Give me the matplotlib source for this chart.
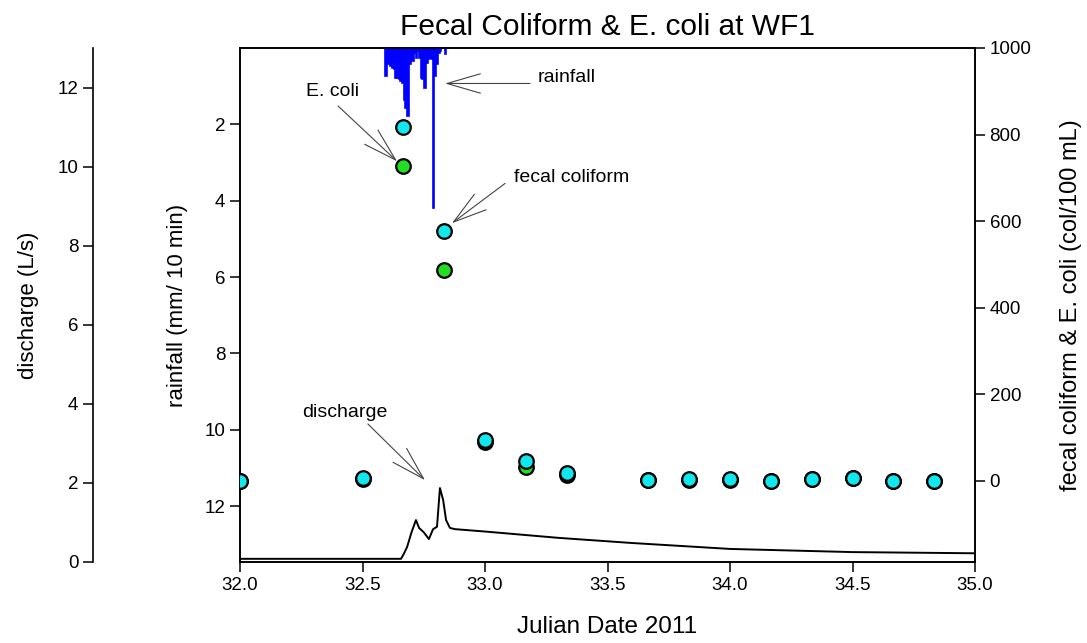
import numpy as np
from matplotlib import pyplot as plt

plt.rcParams['font.family'] = ['Liberation Sans', 'DejaVu Sans']

# rainfall, 10 minute totals (mm), starting at rain_start
rain_start = 32.592
rain_step = 1 / 144
rain_mm = [0.73, 0.34, 0.43, 0.47, 0.52, 0.56, 0.78, 0.78, 0.82, 0.87, 0.91, 1.35,
           1.56, 1.78, 0.43, 0.25, 0.34, 0.12, 0.25, 0.08, 0.25, 0.78, 0.82, 1.04,
           0.39, 0.30, 0.25, 0.30, 4.18, 0.73, 0.43, 0.12, 0.08, 0.0, 0.0, 0.17]
rain_t = [rain_start + k * rain_step for k in range(len(rain_mm))]

# discharge (L/s)
q_t = [32.0, 32.3, 32.657, 32.668, 32.682, 32.70, 32.718, 32.731, 32.75, 32.771,
       32.788, 32.804, 32.816, 32.829, 32.841, 32.857, 32.878, 33.0, 33.3, 33.6,
       34.0, 34.5, 35.0]
q = [0.08, 0.08, 0.08, 0.2, 0.38, 0.75, 1.06, 0.86, 0.75, 0.58,
     0.83, 0.89, 1.87, 1.57, 1.06, 0.86, 0.83, 0.77, 0.61, 0.48,
     0.33, 0.25, 0.22]

# bacteria samples (col/100 mL)
sample_t = [32.0, 32.5, 32.667, 32.833, 33.0, 33.167, 33.333, 33.667, 33.833,
            34.0, 34.167, 34.333, 34.5, 34.667, 34.833]
fecal = [0, 5, 817, 576, 95, 45, 18, 2, 3, 3, 0, 4, 6, 0, 0]
ecoli = [0, 3, 727, 486, 90, 32, 12, 1, 2, 2, 0, 3, 5, 0, 0]

fig = plt.figure(figsize=(10.87, 6.43), dpi=100)
ax = fig.add_axes([0.2208, 0.126, 0.6762, 0.7994])

ax.bar(rain_t, rain_mm, width=rain_step, align='edge', color='#0000ff',
       edgecolor='#0000ff', linewidth=1.2)
ax.set_xlim(32, 35)
ax.set_ylim(13.46, 0)
ax.set_yticks(range(2, 13, 2))
ax.set_xticks(np.arange(32, 35.01, 0.5))
ax.set_xticklabels(['%.1f' % v for v in np.arange(32, 35.01, 0.5)])
ax.set_ylabel('rainfall (mm/ 10 min)', fontsize=16)
ax.yaxis.set_label_coords(-0.0707, 0.5)
ax.set_xlabel('Julian Date 2011', fontsize=17.5, labelpad=16)
ax.set_title('Fecal Coliform & E. coli at WF1', fontsize=21.5, pad=9)

# discharge on an offset left axis
ax2 = ax.twinx()
ax2.spines['left'].set_position(('axes', -0.2))
ax2.spines['left'].set_visible(True)
ax2.spines['right'].set_visible(False)
ax2.spines['top'].set_visible(False)
ax2.spines['bottom'].set_visible(False)
ax2.yaxis.set_ticks_position('left')
ax2.yaxis.set_label_position('left')
ax2.plot(q_t, q, color='black', lw=1.4)
ax2.set_ylim(0, 13)
ax2.set_yticks(range(0, 13, 2))
ax2.set_ylabel('discharge (L/s)', fontsize=16)
ax2.yaxis.set_label_coords(-0.273, 0.5)

# bacteria on right axis
ax3 = ax.twinx()
ax3.scatter(sample_t, ecoli, s=110, color='#22dd22', edgecolors='black', linewidths=1.6, zorder=3)
ax3.scatter(sample_t, fecal, s=110, color='#11e8ee', edgecolors='black', linewidths=1.6, zorder=4)
ax3.set_ylim(-188, 1000)
ax3.set_yticks(range(0, 1001, 200))
ax3.set_ylabel('fecal coliform & E. coli (col/100 mL)', fontsize=17)
ax3.yaxis.set_label_coords(1.116, 0.5)

for a in (ax, ax2, ax3):
    a.tick_params(direction='out', length=7, width=1.1, labelsize=13.5)
    for s in a.spines.values():
        s.set_linewidth(1.2)

arrow = dict(arrowstyle='->, head_length=2.4, head_width=0.7', color='#444444',
             lw=0.8, shrinkA=0, shrinkB=0, mutation_scale=10)

ax.annotate('', xy=(32.837, 0.93), xytext=(33.184, 0.93), arrowprops=arrow)
ax.text(33.216, 0.77, 'rainfall', fontsize=14, ha='left', va='center')

ax3.annotate('', xy=(32.641, 738), xytext=(32.40, 866), arrowprops=arrow)
ax3.text(32.376, 900, 'E. coli', fontsize=14, ha='center', va='center')

ax3.annotate('', xy=(32.865, 595), xytext=(33.082, 687), arrowprops=arrow)
ax3.text(33.118, 701, 'fecal coliform', fontsize=14, ha='left', va='center')

ax2.annotate('', xy=(32.755, 2.07), xytext=(32.522, 3.49), arrowprops=arrow)
ax2.text(32.429, 3.79, 'discharge', fontsize=14, ha='center', va='center')

fig.savefig('out.png', dpi=100)
